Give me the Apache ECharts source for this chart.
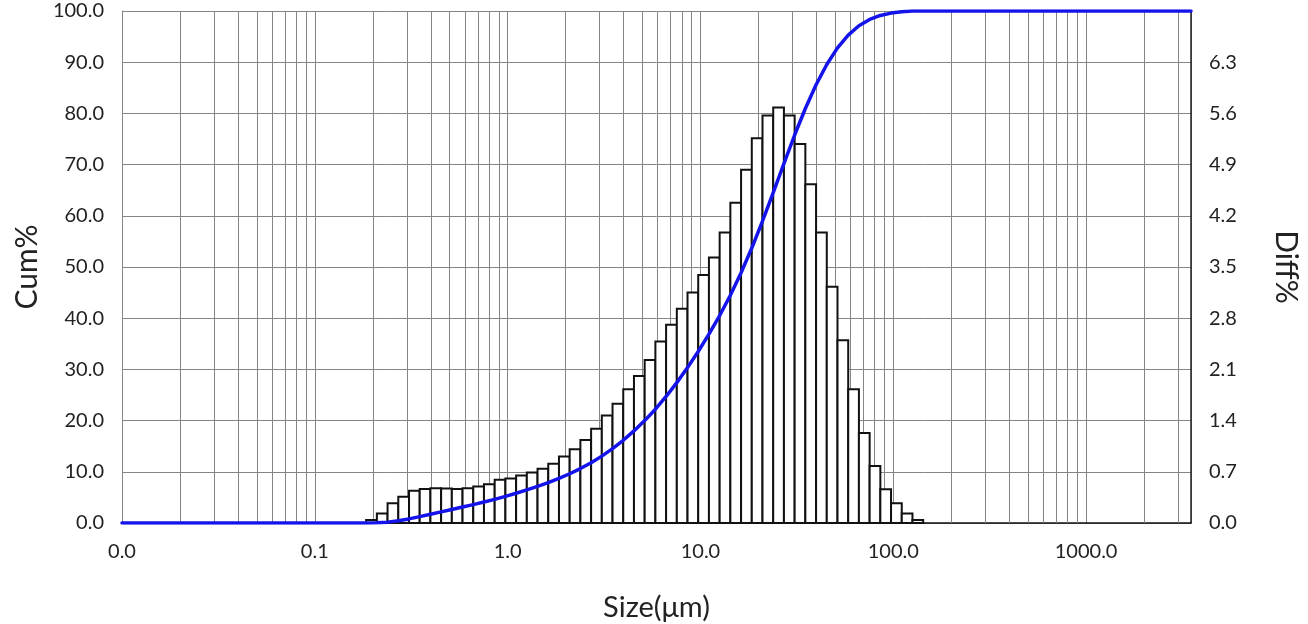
<!DOCTYPE html>
<html>
<head>
<meta charset="utf-8">
<script src="https://cdn.jsdelivr.net/npm/echarts@6/dist/echarts.min.js"></script>
<style>
html,body{margin:0;padding:0;background:#fff;}
#chart{width:1308px;height:624px;}
</style>
</head>
<body>
<div id="chart"></div>
<script>
// Size class edges (µm)
const sizeEdges = [0.1845,0.2098,0.2384,0.2710,0.3080,0.3499,0.3977,0.4519,0.5136,0.5837,
  0.6633,0.7538,0.8567,0.9737,1.1066,1.2576,1.4293,1.6243,1.8460,2.0979,
  2.3842,2.7096,3.0794,3.4995,3.9774,4.5201,5.1369,5.8384,6.6346,7.5405,
  8.5692,9.7364,11.066,12.576,14.293,16.243,18.460,20.979,23.842,27.096,
  30.794,34.995,39.774,45.201,51.369,58.384,66.346,75.405,85.692,97.364,
  110.66,125.76,142.93];
// Differential % per class
const diffValues = [0.04,0.13,0.27,0.36,0.44,0.465,0.474,0.47,0.465,0.474,
  0.50,0.53,0.59,0.61,0.65,0.69,0.74,0.81,0.91,1.01,
  1.135,1.29,1.47,1.63,1.83,2.01,2.23,2.48,2.71,2.93,
  3.15,3.39,3.63,3.97,4.38,4.83,5.26,5.57,5.68,5.57,
  5.18,4.63,3.97,3.23,2.50,1.83,1.23,0.78,0.46,0.27,0.13,0.04];
// Cumulative % at the upper edge of each class
const cumValues = [0.04,0.17,0.44,0.80,1.24,1.70,2.18,2.65,3.11,3.59,
  4.09,4.62,5.21,5.82,6.47,7.16,7.90,8.71,9.62,10.63,
  11.77,13.06,14.53,16.16,17.99,20.00,22.23,24.71,27.42,30.35,
  33.50,36.89,40.52,44.49,48.87,53.70,58.96,64.53,70.21,75.78,
  80.96,85.59,89.56,92.79,95.29,97.12,98.35,99.13,99.59,99.86,99.99,100.0];
const xMin = 0.01, xMax = 3500;
const decades = [0.01,0.1,1,10,100,1000];
const minorMultipliers = [2,3,4,5,6,7,8,9];

const FONT = 'Lato, "Open Sans", sans-serif';
const GRID = '#858585';

const histData = diffValues.map((v,i)=>[sizeEdges[i], sizeEdges[i+1], v]);
const cumData = [[xMin,0],[sizeEdges[0],0]];
cumValues.forEach((v,i)=>cumData.push([sizeEdges[i+1], v]));
cumData.push([xMax,100]);

const minorLines = [];
decades.forEach(d=>minorMultipliers.forEach(m=>{const v=+(m*d).toPrecision(3); if(v<xMax) minorLines.push({xAxis:v});}));

const chart = echarts.init(document.getElementById('chart'), null, {renderer:'canvas'});
chart.setOption({
  animation:false,
  backgroundColor:'#fff',
  textStyle:{fontFamily:FONT},
  grid:{left:122,right:117,top:11,bottom:101,containLabel:false,outerBoundsMode:'none'},
  xAxis:{
    type:'log', logBase:10, min:xMin, max:xMax,
    name:'Size(μm)', nameLocation:'middle', nameGap:70,
    nameTextStyle:{fontSize:29,color:'#222',fontFamily:FONT},
    axisLine:{show:true,lineStyle:{color:'#111',width:1.5}},
    axisTick:{show:false},
    axisLabel:{color:'#222',fontSize:20,margin:19,showMaxLabel:false,
      formatter:v=>Number(v).toFixed(1)},
    splitLine:{show:true,lineStyle:{color:GRID,width:1}}
  },
  yAxis:[{
    type:'value', min:0, max:100, interval:10, position:'left',
    name:'Cum%', nameLocation:'middle', nameGap:78, nameRotate:90,
    nameTextStyle:{fontSize:30,color:'#222',fontFamily:FONT},
    axisLine:{show:true,lineStyle:{color:GRID,width:1}},
    axisTick:{show:false},
    axisLabel:{color:'#222',fontSize:20,margin:18,formatter:v=>v.toFixed(1)},
    splitLine:{show:true,lineStyle:{color:GRID,width:1}}
  },{
    type:'value', min:0, max:7, interval:0.7, position:'right',
    name:'Diff%', nameLocation:'middle', nameGap:80, nameRotate:-90,
    nameTextStyle:{fontSize:30,color:'#222',fontFamily:FONT},
    axisLine:{show:true,lineStyle:{color:'#222',width:1.5}},
    axisTick:{show:false},
    axisLabel:{color:'#222',fontSize:20,margin:18,showMaxLabel:false,
      formatter:v=>v.toFixed(1)},
    splitLine:{show:false}
  }],
  series:[{
    type:'line', xAxisIndex:0, yAxisIndex:0, data:[[xMin,0]],
    showSymbol:false, lineStyle:{width:0}, silent:true, z:1,
    markLine:{silent:true, symbol:['none','none'], label:{show:false}, z:1,
      lineStyle:{color:GRID,type:'solid',width:1}, data:minorLines}
  },{
    type:'custom', xAxisIndex:0, yAxisIndex:1, z:3,
    encode:{x:[0,1], y:2},
    data:histData,
    renderItem:function(params, api){
      const p0 = api.coord([api.value(0), 0]);
      const p1 = api.coord([api.value(1), api.value(2)]);
      return {type:'rect', shape:{x:p0[0], y:p1[1], width:p1[0]-p0[0], height:p0[1]-p1[1]},
        style:{fill:'#fff', stroke:'#111', lineWidth:2}};
    }
  },{
    type:'line', xAxisIndex:0, yAxisIndex:0, z:4,
    data:cumData, showSymbol:false, smooth:false,
    lineStyle:{color:'#1414ea', width:3.5, join:'round', cap:'round'}
  }]
});
</script>
</body>
</html>
